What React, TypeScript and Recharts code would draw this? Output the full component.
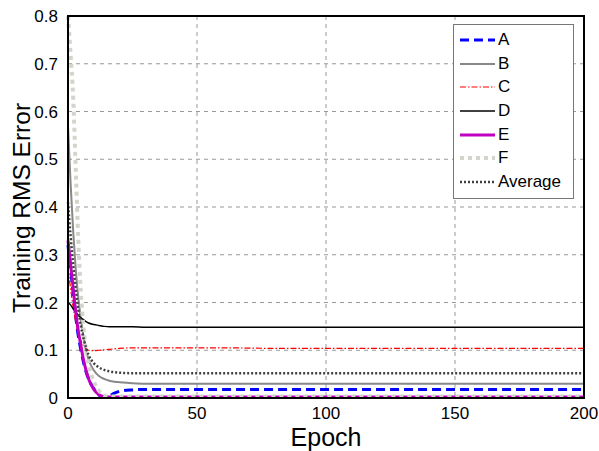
import { LineChart, Line, XAxis, YAxis, CartesianGrid } from "recharts";

const epochs = [0, 1, 2, 3, 4, 5, 6, 7, 8, 10, 12, 14, 16, 18, 20, 25, 30, 40, 60, 80, 100, 120, 140, 160, 180, 200];

const seriesA = [0.32, 0.27, 0.22, 0.17, 0.13, 0.1, 0.075, 0.055, 0.04, 0.02, 0.006, 0.001, 0.004, 0.01, 0.014, 0.017, 0.018, 0.018, 0.018, 0.018, 0.018, 0.018, 0.018, 0.018, 0.018, 0.018];
const seriesB = [0.57, 0.45, 0.35, 0.27, 0.21, 0.165, 0.13, 0.1, 0.08, 0.058, 0.046, 0.04, 0.036, 0.034, 0.033, 0.031, 0.03, 0.03, 0.03, 0.03, 0.03, 0.03, 0.03, 0.03, 0.03, 0.03];
const seriesC = [0.27, 0.23, 0.19, 0.16, 0.135, 0.12, 0.11, 0.103, 0.1, 0.099, 0.1, 0.101, 0.102, 0.103, 0.104, 0.105, 0.105, 0.105, 0.105, 0.104, 0.104, 0.104, 0.104, 0.104, 0.104, 0.104];
const seriesD = [0.2, 0.195, 0.187, 0.18, 0.173, 0.168, 0.164, 0.16, 0.157, 0.154, 0.152, 0.15, 0.149, 0.149, 0.149, 0.149, 0.148, 0.148, 0.148, 0.148, 0.148, 0.148, 0.148, 0.148, 0.148, 0.148];
const seriesE = [0.33, 0.28, 0.23, 0.18, 0.14, 0.11, 0.08, 0.058, 0.04, 0.018, 0.007, 0.003, 0.002, 0.002, 0.002, 0.002, 0.002, 0.002, 0.002, 0.002, 0.002, 0.002, 0.002, 0.002, 0.002, 0.002];
const seriesF = [0.8, 0.72, 0.63, 0.48, 0.33, 0.22, 0.15, 0.1, 0.07, 0.035, 0.015, 0.006, 0.003, 0.003, 0.003, 0.003, 0.003, 0.003, 0.003, 0.003, 0.003, 0.003, 0.003, 0.003, 0.003, 0.003];
const seriesAvg = [0.41, 0.34, 0.28, 0.23, 0.185, 0.15, 0.125, 0.105, 0.09, 0.073, 0.064, 0.059, 0.056, 0.054, 0.053, 0.052, 0.052, 0.052, 0.052, 0.052, 0.052, 0.052, 0.052, 0.052, 0.052, 0.052];

const xTicks = [0, 50, 100, 150, 200];
const yTicks = [0, 0.1, 0.2, 0.3, 0.4, 0.5, 0.6, 0.7, 0.8];

const data = epochs.map((epoch, i) => ({
  epoch,
  A: seriesA[i],
  B: seriesB[i],
  C: seriesC[i],
  D: seriesD[i],
  E: seriesE[i],
  F: seriesF[i],
  Average: seriesAvg[i],
}));

const styles = [
  { key: "A", color: "#0000ff", width: 3, dash: "9 5" },
  { key: "B", color: "#888888", width: 2, dash: undefined },
  { key: "C", color: "#ff0000", width: 1.2, dash: "6 2 1.5 2" },
  { key: "D", color: "#000000", width: 1.5, dash: undefined },
  { key: "E", color: "#c000c0", width: 3, dash: undefined },
  { key: "F", color: "#d4d4cc", width: 4, dash: "4 4" },
  { key: "Average", color: "#404040", width: 2.5, dash: "2 2" },
];

const font = "Liberation Sans, Arial, sans-serif";

function LegendBox() {
  return (
    <div
      style={{
        position: "absolute",
        left: 453,
        top: 24,
        border: "1px solid #777",
        background: "#fff",
        width: 119,
        padding: "3px 0 4px 0",
        fontFamily: font,
        fontSize: 17,
      }}
    >
      {styles.map((s) => (
        <div key={s.key} style={{ display: "flex", alignItems: "center", height: 23.7 }}>
          <svg width={42} height={10} style={{ marginLeft: 5 }}>
            <line x1={1} y1={5} x2={36} y2={5} stroke={s.color} strokeWidth={s.width} strokeDasharray={s.dash} />
          </svg>
          <span style={{ marginLeft: -3 }}>{s.key}</span>
        </div>
      ))}
    </div>
  );
}

const YLabel = () => (
  <text x={21} y={208} transform="rotate(-90, 21, 208)" textAnchor="middle" dominantBaseline="central" fill="#000" fontSize={24.5} fontFamily={font}>
    Training RMS Error
  </text>
);

const XLabel = (props: any) => {
  const vb = props.viewBox;
  return (
    <text x={vb.x + vb.width / 2} y={437} textAnchor="middle" dominantBaseline="central" fill="#000" fontSize={25} fontFamily={font}>
      Epoch
    </text>
  );
};

export default function App() {
  return (
    <div style={{ position: "absolute", left: 0, top: 0, width: 599, height: 451, background: "#fff" }}>
      <LineChart width={599} height={451} data={data} margin={{ top: 16, right: 15, left: 0, bottom: 0 }}>
        <CartesianGrid stroke="#999" strokeDasharray="4 4" />
        <XAxis
          dataKey="epoch"
          type="number"
          domain={[0, 200]}
          ticks={xTicks}
          height={53}
          axisLine={{ stroke: "#000", strokeWidth: 2 }}
          tickLine={false}
          tick={{ fill: "#000", fontSize: 17, fontFamily: font }}
          tickMargin={3}
          label={<XLabel />}
        />
        <YAxis
          domain={[0, 0.8]}
          ticks={yTicks}
          width={68}
          axisLine={{ stroke: "#000", strokeWidth: 2 }}
          tickLine={false}
          tick={{ fill: "#000", fontSize: 17, fontFamily: font }}
          tickMargin={4}
          label={<YLabel />}
        />
        {styles.map((s) => (
          <Line
            key={s.key}
            dataKey={s.key}
            type="monotone"
            stroke={s.color}
            strokeWidth={s.width}
            strokeDasharray={s.dash}
            dot={false}
            isAnimationActive={false}
          />
        ))}
      </LineChart>
      {/* plot frame */}
      <div
        style={{
          position: "absolute",
          left: 67,
          top: 15,
          width: 518,
          height: 384,
          boxSizing: "border-box",
          border: "2px solid #000",
          pointerEvents: "none",
        }}
      />
      <LegendBox />
    </div>
  );
}
